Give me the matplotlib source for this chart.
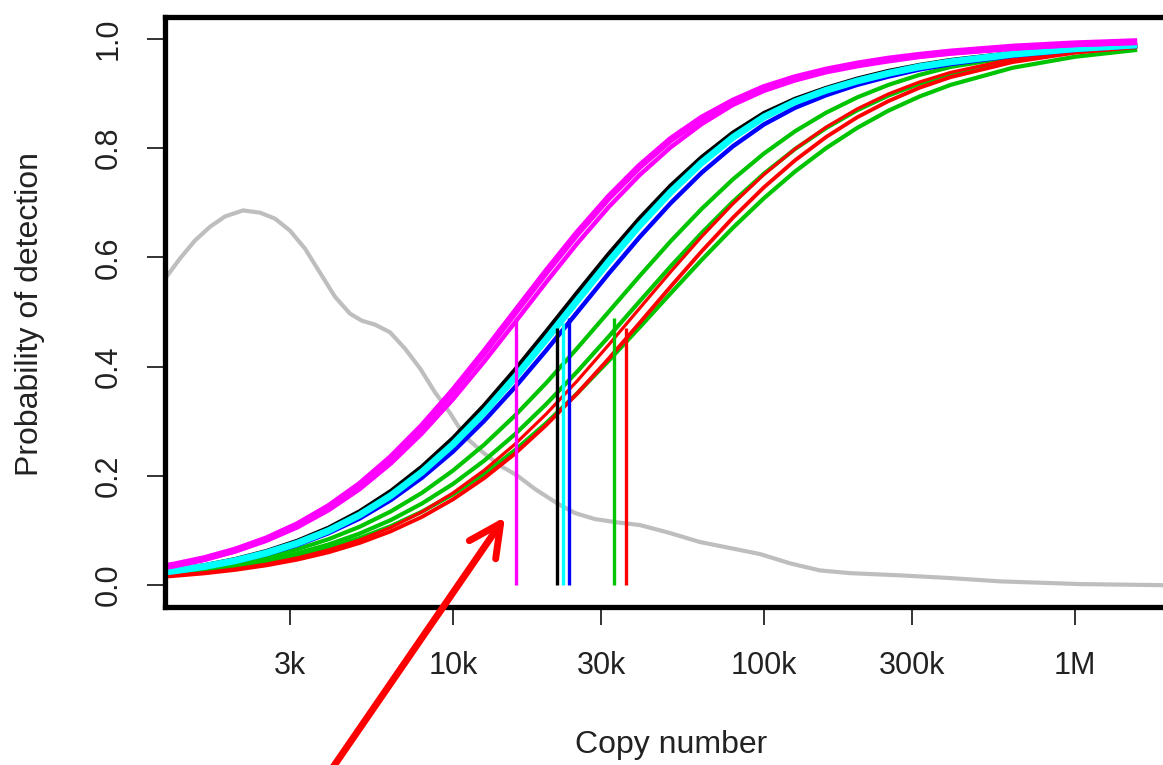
import matplotlib.pyplot as plt
from matplotlib.patches import FancyArrowPatch

plt.rcParams['font.family'] = ['Liberation Sans', 'DejaVu Sans']

# ------------------------------------------------------------
# data
# ------------------------------------------------------------

# copy numbers where the detection curves were read
copies = [1000, 1259, 1585, 1995, 2512, 3162, 3981, 5012, 6310, 7943,
          10000, 12589, 15849, 19953, 25119, 31623, 39811, 50119, 63096, 79433,
          100000, 125893, 158489, 199526, 251189, 316228, 398107, 630957,
          1000000, 1584893]

# probability of detection, one list per curve
magenta_a = [0.0274, 0.0365, 0.0485, 0.0643, 0.0847, 0.1108, 0.1437, 0.1842, 0.2333, 0.2906,
             0.3555, 0.4261, 0.5000, 0.5739, 0.6445, 0.7094, 0.7667, 0.8158, 0.855, 0.886,
             0.911, 0.929, 0.943, 0.954, 0.963, 0.970, 0.976, 0.985, 0.991, 0.995]
magenta_b = [0.0265, 0.0353, 0.0467, 0.0618, 0.0813, 0.1060, 0.1373, 0.1758, 0.2227, 0.2777,
             0.3403, 0.4091, 0.4816, 0.5550, 0.6260, 0.6919, 0.7508, 0.8017, 0.8443, 0.8792,
             0.905, 0.924, 0.939, 0.950, 0.959, 0.967, 0.973, 0.982, 0.989, 0.993]
black = [0.0207, 0.0274, 0.0361, 0.0474, 0.0621, 0.0810, 0.1049, 0.1350, 0.1720, 0.2166,
         0.2689, 0.3287, 0.3944, 0.4643, 0.5357, 0.6056, 0.6713, 0.7311, 0.7834, 0.8280,
         0.864, 0.890, 0.910, 0.927, 0.941, 0.952, 0.961, 0.974, 0.983, 0.990]
cyan = [0.0196, 0.0259, 0.0341, 0.0448, 0.0589, 0.0769, 0.0998, 0.1285, 0.1640, 0.2070,
        0.2578, 0.3162, 0.3809, 0.4502, 0.5214, 0.5918, 0.6586, 0.7197, 0.7736, 0.8196,
        0.857, 0.885, 0.906, 0.923, 0.937, 0.949, 0.958, 0.972, 0.982, 0.989]
blue = [0.0190, 0.0250, 0.0329, 0.0432, 0.0565, 0.0736, 0.0953, 0.1221, 0.1558, 0.1966,
        0.2446, 0.3006, 0.3629, 0.4300, 0.5000, 0.5700, 0.6371, 0.6994, 0.7554, 0.8034,
        0.8435, 0.874, 0.897, 0.916, 0.931, 0.944, 0.954, 0.969, 0.980, 0.987]
green_1 = [0.0184, 0.0238, 0.0308, 0.0398, 0.0513, 0.0659, 0.0842, 0.1070, 0.1350, 0.1690,
           0.2098, 0.2571, 0.3109, 0.3703, 0.4341, 0.5000, 0.5659, 0.6297, 0.6891, 0.7429,
           0.7902, 0.8310, 0.8650, 0.8930, 0.9158, 0.9341, 0.9487, 0.967, 0.979, 0.987]
green_2 = [0.0167, 0.0215, 0.0277, 0.0356, 0.0457, 0.0585, 0.0745, 0.0945, 0.1192, 0.1494,
           0.1853, 0.2278, 0.2766, 0.3316, 0.3913, 0.4546, 0.5195, 0.5837, 0.6450, 0.7020,
           0.7534, 0.7985, 0.8369, 0.8694, 0.8962, 0.9180, 0.9355, 0.9606, 0.9762, 0.9857]
red_1 = [0.0134, 0.0176, 0.0228, 0.0297, 0.0386, 0.0500, 0.0645, 0.0828, 0.1057, 0.1341,
         0.1688, 0.2102, 0.2585, 0.3135, 0.3743, 0.4395, 0.5068, 0.5737, 0.6383, 0.6980,
         0.7518, 0.7987, 0.8386, 0.8720, 0.8992, 0.9211, 0.9387, 0.9633, 0.9783, 0.9873]
red_2 = [0.0128, 0.0167, 0.0216, 0.0280, 0.0363, 0.0468, 0.0602, 0.0773, 0.0986, 0.1249,
         0.1571, 0.1958, 0.2410, 0.2932, 0.3513, 0.4142, 0.4800, 0.5466, 0.6114, 0.6726,
         0.7284, 0.7778, 0.8205, 0.8566, 0.8861, 0.9106, 0.9300, 0.9576, 0.9748, 0.9850]
green_3 = [0.0162, 0.0206, 0.0263, 0.0334, 0.0426, 0.0541, 0.0683, 0.0861, 0.1080, 0.1345,
           0.1662, 0.2038, 0.2474, 0.2968, 0.3515, 0.4104, 0.4719, 0.5343, 0.5957, 0.6542,
           0.7084, 0.7573, 0.8002, 0.8372, 0.8686, 0.8945, 0.9158, 0.9472, 0.9673, 0.9799]

# vertical markers (copy number, height where they stop)
marker_copies = [15900, 21600, 22600, 23600, 33000, 36000]
marker_tops = [0.49, 0.47, 0.48, 0.49, 0.49, 0.47]
marker_colors = ['#ff00ff', 'black', '#00ffff', '#0000ff', '#00c400', '#ff0000']

# grey density curve
dens_copies = [1186, 1325, 1481, 1654, 1849, 2113, 2395, 2677, 2992, 3344,
               3736, 4175, 4665, 5099, 5613, 6272, 7011, 7833, 8753, 9781,
               10929, 12490, 14163, 16063, 18353, 21601, 24684, 28622, 33684, 39930,
               48768, 62262, 77770, 97072, 121220, 151390, 189090, 273700, 396460, 574080,
               1037800, 1918700, 2200000]
dens_values = [0.561, 0.598, 0.631, 0.656, 0.675, 0.686, 0.682, 0.671, 0.649, 0.616,
               0.572, 0.528, 0.497, 0.484, 0.477, 0.463, 0.433, 0.397, 0.353, 0.315,
               0.272, 0.243, 0.219, 0.201, 0.176, 0.150, 0.132, 0.121, 0.115, 0.110,
               0.097, 0.079, 0.068, 0.057, 0.040, 0.027, 0.022, 0.018, 0.013, 0.007,
               0.002, 0.000, 0.000]

x_ticks = [3000, 10000, 30000, 100000, 300000, 1000000]
x_tick_labels = ['3k', '10k', '30k', '100k', '300k', '1M']
y_ticks = [0.0, 0.2, 0.4, 0.6, 0.8, 1.0]
y_tick_labels = ['0.0', '0.2', '0.4', '0.6', '0.8', '1.0']

# ------------------------------------------------------------
# plot
# ------------------------------------------------------------
fig = plt.figure(figsize=(11.63, 7.65), dpi=100)
# plot region runs past the right edge of the picture (cropped original)
ax = fig.add_axes([0.1419, 0.2065, 0.8684, 0.7712])

ax.plot(dens_copies, dens_values, color='#bebebe', lw=3.0, zorder=1)

curves = [
    (green_3, '#00c400', 3.0),
    (green_2, '#00c400', 3.0),
    (green_1, '#00c400', 3.0),
    (red_2, '#ff0000', 2.8),
    (red_1, '#ff0000', 2.3),
    (blue, '#0000ff', 3.2),
    (black, 'black', 3.3),
    (cyan, '#00ffff', 5.0),
    (magenta_b, '#ff00ff', 3.2),
    (magenta_a, '#ff00ff', 5.0),
]
for vals, col, lw in curves:
    ax.plot(copies, vals, color=col, lw=lw, solid_capstyle='butt', zorder=2)

ax.vlines(marker_copies, 0, marker_tops, colors=marker_colors, lw=2.4, zorder=3)

ax.set_xscale('log')
ax.set_xlim(1186, 2097000)
ax.set_ylim(-0.04, 1.04)

ax.set_xticks(x_ticks)
ax.set_xticklabels(x_tick_labels)
ax.xaxis.set_minor_locator(plt.NullLocator())
ax.set_yticks(y_ticks)
ax.set_yticklabels(y_tick_labels, rotation=90, va='center')

ax.tick_params(axis='both', direction='out', length=13, width=1.4,
               color='#333333', labelsize=22, labelcolor='#222222')
ax.tick_params(axis='x', pad=19)
ax.tick_params(axis='y', pad=17)

for sp in ax.spines.values():
    sp.set_linewidth(3.8)
    sp.set_color('black')

fig.text(671 / 1163, 1 - 745 / 765, 'Copy number', ha='center', va='center',
         fontsize=23, color='#222222')
fig.text(30 / 1163, 1 - 314 / 765, 'Probability of detection', ha='center',
         va='center', rotation=90, fontsize=23, color='#222222')

# red arrow pointing at the magenta marker
arrow = FancyArrowPatch((329 / 1163, -0.0105), (505 / 1163, 1 - 517 / 765),
                        transform=fig.transFigure, arrowstyle='->,head_length=1.0,head_width=0.5',
                        mutation_scale=23, lw=5, color='#ff0000',
                        shrinkA=0, shrinkB=0, zorder=10)
fig.add_artist(arrow)

fig.savefig('out.png', dpi=100)
